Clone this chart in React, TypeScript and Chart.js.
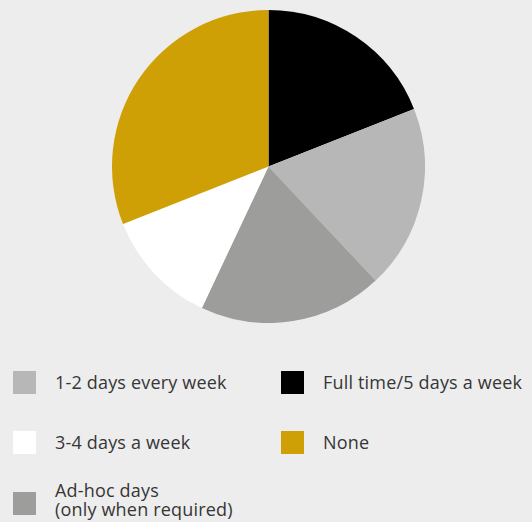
import React, { useEffect, useRef } from "react";
import { Chart, registerables } from "chart.js";

Chart.register(...registerables);

const categories = [
  "Full time/5 days a week",
  "1-2 days every week",
  "Ad-hoc days (only when required)",
  "3-4 days a week",
  "None",
];
const values = [19, 19, 19, 12, 31];
const colors = ["#000000", "#b7b7b7", "#9d9d9c", "#ffffff", "#cfa005"];

// legend entries laid out row by row in 2 columns
const legendOrder = [1, 0, 3, 4, 2];
const legendLabels: Record<number, string[]> = {
  0: ["Full time/5 days a week"],
  1: ["1-2 days every week"],
  2: ["Ad-hoc days", "(only when required)"],
  3: ["3-4 days a week"],
  4: ["None"],
};

export default function App() {
  const ref = useRef<HTMLCanvasElement | null>(null);

  useEffect(() => {
    document.body.style.margin = "0";
    document.body.style.background = "#ededed";
    const chart = new Chart(ref.current!, {
      type: "pie",
      data: {
        labels: categories,
        datasets: [
          {
            data: values,
            backgroundColor: colors,
            borderWidth: 0,
          },
        ],
      },
      options: {
        animation: false,
        responsive: false,
        maintainAspectRatio: false,
        layout: { padding: 0 },
        plugins: {
          legend: { display: false },
          tooltip: { enabled: false },
        },
      },
    });
    return () => chart.destroy();
  }, []);

  const rowTops = [371, 431, 492];
  const colX = [13, 281];

  return (
    <div
      style={{
        position: "relative",
        width: 532,
        height: 522,
        background: "#ededed",
        overflow: "hidden",
        fontFamily: "'Open Sans', sans-serif",
      }}
    >
      <canvas
        ref={ref}
        width={313}
        height={313}
        style={{ position: "absolute", left: 112, top: 10, width: 313, height: 313 }}
      />
      {legendOrder.map((ci, i) => {
        const row = Math.floor(i / 2);
        const col = i % 2;
        const lines = legendLabels[ci];
        const swTop = rowTops[row];
        const textTop = lines.length > 1 ? 481 : swTop + 2;
        return (
          <React.Fragment key={ci}>
            <div
              style={{
                position: "absolute",
                left: colX[col],
                top: swTop,
                width: 23,
                height: 23,
                background: colors[ci],
              }}
            />
            <div
              style={{
                position: "absolute",
                left: colX[col] + 42,
                top: textTop,
                fontSize: 18,
                lineHeight: "19px",
                letterSpacing: "0.18px",
                color: "#363636",
                whiteSpace: "nowrap",
              }}
            >
              {lines.map((l, k) => (
                <div key={k}>{l}</div>
              ))}
            </div>
          </React.Fragment>
        );
      })}
    </div>
  );
}
